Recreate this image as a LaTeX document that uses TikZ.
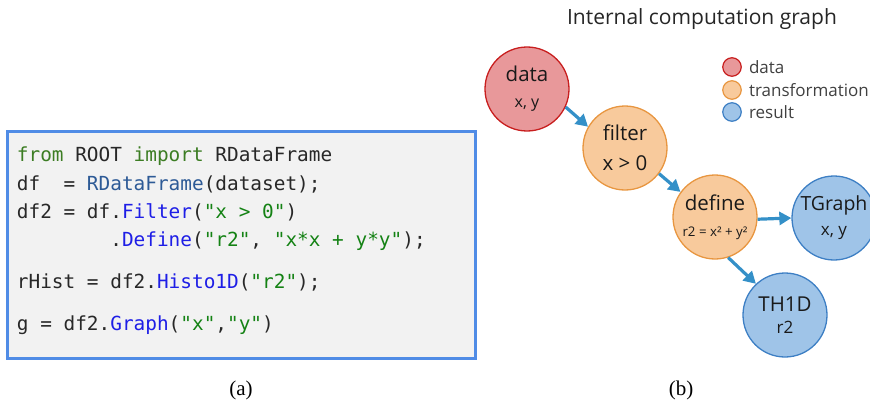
\documentclass[tikz,border=0pt]{standalone}
\usepackage{fontspec}
\setmainfont{Liberation Serif}
\newfontfamily\graphfont{Open Sans}
\newfontfamily\codefont{DejaVu Sans Mono}
\usetikzlibrary{arrows.meta,positioning}

\definecolor{kwgreen}{RGB}{60,125,35}
\definecolor{strgreen}{RGB}{20,130,20}
\definecolor{fnblue}{RGB}{30,30,230}
\definecolor{clsblue}{RGB}{45,90,150}
\definecolor{codegray}{RGB}{40,40,40}
\definecolor{boxgray}{RGB}{242,242,242}
\definecolor{boxblue}{RGB}{80,140,230}
\definecolor{datafill}{RGB}{232,152,154}
\definecolor{datared}{RGB}{200,30,30}
\definecolor{trafofill}{RGB}{248,202,156}
\definecolor{trafoline}{RGB}{232,150,64}
\definecolor{resfill}{RGB}{159,196,232}
\definecolor{resline}{RGB}{61,127,196}
\definecolor{arrowblue}{RGB}{52,144,200}

\newcommand{\kw}[1]{\textcolor{kwgreen}{#1}}
\newcommand{\fn}[1]{\textcolor{fnblue}{#1}}
\newcommand{\cls}[1]{\textcolor{clsblue}{#1}}
\newcommand{\codestr}[1]{\textcolor{strgreen}{#1}}

\begin{document}
\begin{tikzpicture}[x=1pt,y=-1pt,
  codeline/.style={anchor=base west,inner sep=0pt,font=\codefont\fontsize{19.4}{23}\selectfont,text=codegray},
  op/.style={circle,minimum size=84pt,inner sep=0pt,line width=1.3pt,align=center,font=\graphfont\fontsize{20.5}{23}\selectfont,text=black!90},
  datanode/.style={op,draw=datared,fill=datafill},
  trafonode/.style={op,draw=trafoline,fill=trafofill},
  resnode/.style={op,draw=resline,fill=resfill},
  key/.style={circle,minimum size=18.5pt,inner sep=0pt,line width=1.2pt},
  keytext/.style={font=\graphfont\fontsize{17}{20}\selectfont,text=black!75,inner sep=0pt},
  flow/.style={line width=3.2pt,draw=arrowblue,-{Triangle[length=12pt,width=13pt]}},
  caption/.style={anchor=base,font=\fontsize{21}{24}\selectfont}]
\useasboundingbox (0,0) rectangle (870,404);

% python snippet
\draw[line width=3pt,draw=boxblue,fill=boxgray] (7,131.5) rectangle (475,358);
\node[codeline] (l1) at (16.7,161.7) {\kw{from} ROOT \kw{import} RDataFrame};
\node[codeline] (l2) at (16.7,190) {df\ \ = \cls{RDataFrame}(dataset);};
\node[codeline] (l3) at (16.7,218.5) {df2 = df.\fn{Filter}(\codestr{"x > 0"})};
\node[codeline] (l4) at (16.7,246.7) {\hphantom{df2 = df}.\fn{Define}(\codestr{"r2"}, \codestr{"x*x + y*y"});};
\node[codeline] (l5) at (16.7,288.5) {rHist = df2.\fn{Histo1D}(\codestr{"r2"});};
\node[codeline] (l6) at (16.7,330.5) {g = df2.\fn{Graph}(\codestr{"x"},\codestr{"y"})};

% graph
\node[anchor=base,font=\graphfont\fontsize{21}{24}\selectfont,text=black!85] (title) at (702,25) {Internal computation graph};

\node[datanode] (data) at (527,89) {data\\[3pt]{\fontsize{16}{18}\selectfont x, y}};
\node[trafonode] (filter) at (625,148) {filter\\[7pt]x > 0};
\node[trafonode] (define) at (715,217) {define\\[3pt]{\fontsize{13.3}{15}\selectfont r2 = x² + y²}};
\node[resnode,font=\graphfont\fontsize{19.5}{22}\selectfont] (tgraph) at (834,218) {TGraph\\[3pt]{\fontsize{17}{19}\selectfont x, y}};
\node[resnode] (th1d) at (785,315) {TH1D\\[-1pt]{\fontsize{17}{19}\selectfont r2}};

\draw[flow] (data.-25) -- (filter.150);
\draw[flow] (filter.-37) -- (define.144);
\draw[flow] (define.-3) -- (tgraph.180);
\draw[flow] (define.-72) -- (th1d.133);

\node[key,draw=datared,fill=datafill] (kdata) at (732,67) {};
\node[key,draw=trafoline,fill=trafofill] (ktrafo) at (732,90) {};
\node[key,draw=resline,fill=resfill] (kres) at (732,112) {};
\node[keytext,right=7pt of kdata] (tdata) {data};
\node[keytext,right=7pt of ktrafo] (ttrafo) {transformation};
\node[keytext,right=7pt of kres] (tres) {result};

\node[caption] (capa) at (241,395) {(a)};
\node[caption] (capb) at (681,395) {(b)};
\end{tikzpicture}
\end{document}
